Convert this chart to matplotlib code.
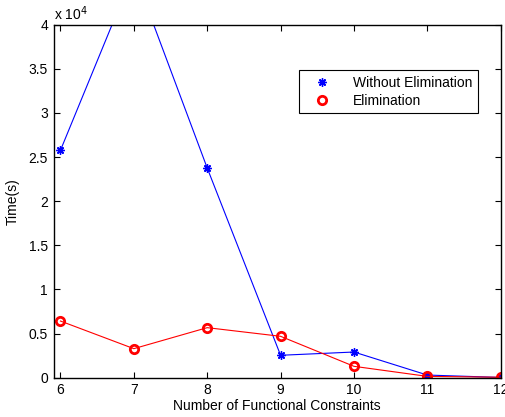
import matplotlib
matplotlib.use("Agg")
import matplotlib.pyplot as plt
from matplotlib.lines import Line2D
from matplotlib.ticker import FuncFormatter

plt.rcParams['font.family'] = ['Liberation Sans', 'DejaVu Sans']

constraints = [6, 7, 8, 9, 10, 11, 12]
without_elim = [25770, 46000, 23760, 2540, 2910, 300, 30]
elimination = [6420, 3290, 5670, 4690, 1290, 150, 50]

x_label = "Number of Functional Constraints"
y_label = "Time(s)"
legend_labels = ["Without Elimination", "Elimination"]

fig = plt.figure(figsize=(5.05, 4.17), dpi=100)
ax = fig.add_axes([53.5/505, 1-377.7/417, (500.7-53.5)/505, (377.7-24.7)/417])

star = (8, 2, 0)
ax.plot(constraints, without_elim, color='blue', lw=0.8, marker=star,
        markersize=6, mew=1.0, mec='blue')
ax.plot(constraints, elimination, color='red', lw=0.8, marker='o',
        markersize=6, mew=2, mfc='none', mec='red')

ax.set_xlim(5.905, 12)
ax.set_ylim(0, 40000)
ax.set_xticks(constraints)
ax.set_yticks([0, 5000, 10000, 15000, 20000, 25000, 30000, 35000, 40000])
ax.yaxis.set_major_formatter(FuncFormatter(lambda v, p: f"{v/1e4:g}"))
ax.tick_params(direction='in', top=True, right=True, length=4, width=0.8,
               labelsize=10, pad=4)
for s in ax.spines.values():
    s.set_linewidth(1.0)

ax.set_xlabel(x_label, fontsize=10, labelpad=1)
ax.set_ylabel(y_label, fontsize=10, labelpad=6)
ax.text(0.0, 1.005, r"x 10$^4$", transform=ax.transAxes, fontsize=10,
        ha='left', va='bottom')

handles = [Line2D([], [], ls='none', marker=star, color='blue', markersize=6, mew=1.0),
           Line2D([], [], ls='none', marker='o', mfc='none', mec='red', markersize=6, mew=2)]
leg = ax.legend(handles, legend_labels, loc='upper left',
                bbox_to_anchor=(299/505, 1-70/417), bbox_transform=fig.transFigure,
                fancybox=False, framealpha=1, edgecolor='black', fontsize=10,
                handlelength=2.5, borderpad=0.4, labelspacing=0.3, handletextpad=1.0,
                borderaxespad=0)
leg.get_frame().set_linewidth(0.8)

fig.savefig("out.png", dpi=100)
